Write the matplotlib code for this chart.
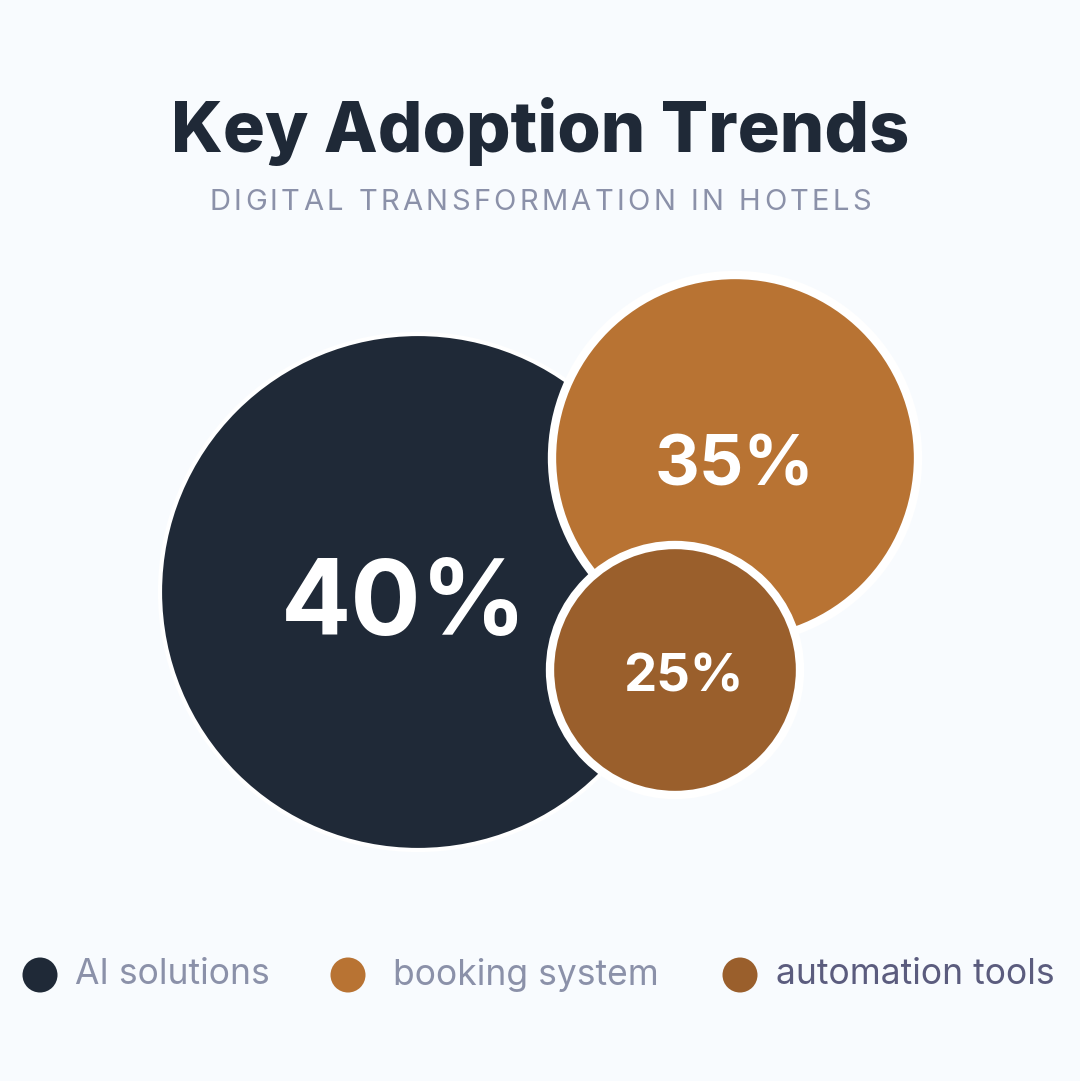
import matplotlib
matplotlib.use("Agg")
import matplotlib.pyplot as plt
from matplotlib.patches import Circle

# data
labels = ["AI solutions", "booking system", "automation tools"]
values = [40, 35, 25]
colors = ["#1f2937", "#b87333", "#9a5f2c"]

# layout (pixels, y down)
centers = [(418, 592), (735, 458), (675, 670)]
radii = [258, 183, 125]
label_pos = [(404, 635), (734, 485), (683, 692)]  # baselines
label_size = [75, 50, 38]
edge_w = [3, 6, 6]
legend_x = [40, 348, 740]
legend_gap = [35, 45, 36]
legend_text_col = ["#8b91a9", "#8b91a9", "#5b5c7e"]

bg = "#f8fbfe"
W, H = 1080, 1081

fig = plt.figure(figsize=(W / 100, H / 100), dpi=100, facecolor=bg)
ax = fig.add_axes([0, 0, 1, 1])
ax.set_xlim(0, W)
ax.set_ylim(H, 0)
ax.set_aspect("equal")
ax.axis("off")
ax.set_facecolor(bg)

fam = ["Inter", "DejaVu Sans"]

ax.text(540, 152, "Key Adoption Trends", ha="center", va="baseline",
        fontsize=50.5, fontweight="heavy", color="#1f2937", family=fam)


def spaced_text(x, y, s, spacing, **kw):
    # matplotlib has no letter-spacing, so lay out characters one by one
    r = fig.canvas.get_renderer()
    widths = []
    for ch in s:
        t = ax.text(0, 0, ch if ch != " " else "n", **kw)
        bb = t.get_window_extent(renderer=r)
        w = bb.width * (0.5 if ch == " " else 1.0)
        widths.append(w)
        t.remove()
    total = sum(widths) + spacing * (len(s) - 1)
    cx = x - total / 2
    for ch, w in zip(s, widths):
        if ch != " ":
            ax.text(cx, y, ch, ha="left", va="baseline", **kw)
        cx += w + spacing


fig.canvas.draw()
spaced_text(540, 210, "DIGITAL TRANSFORMATION IN HOTELS", 3.3,
            fontsize=21, color="#8b91a9", family=fam)

for (cx, cy), r, c, ew in zip(centers, radii, colors, edge_w):
    ax.add_patch(Circle((cx, cy), r, facecolor=c, edgecolor="white",
                        linewidth=ew, zorder=2))

for (lx, ly), v, fs in zip(label_pos, values, label_size):
    ax.text(lx, ly, f"{v}%", ha="center", va="baseline", fontsize=fs,
            fontweight="bold", color="white", family=fam, zorder=5)

for x, g, lab, c, tc in zip(legend_x, legend_gap, labels, colors, legend_text_col):
    ax.add_patch(Circle((x, 975), 17.5, facecolor=c, edgecolor="none", zorder=2))
    ax.text(x + g, 975, lab, ha="left", va="center", fontsize=25.5,
            color=tc, family=fam)

fig.savefig("out.png", dpi=100, facecolor=bg)
